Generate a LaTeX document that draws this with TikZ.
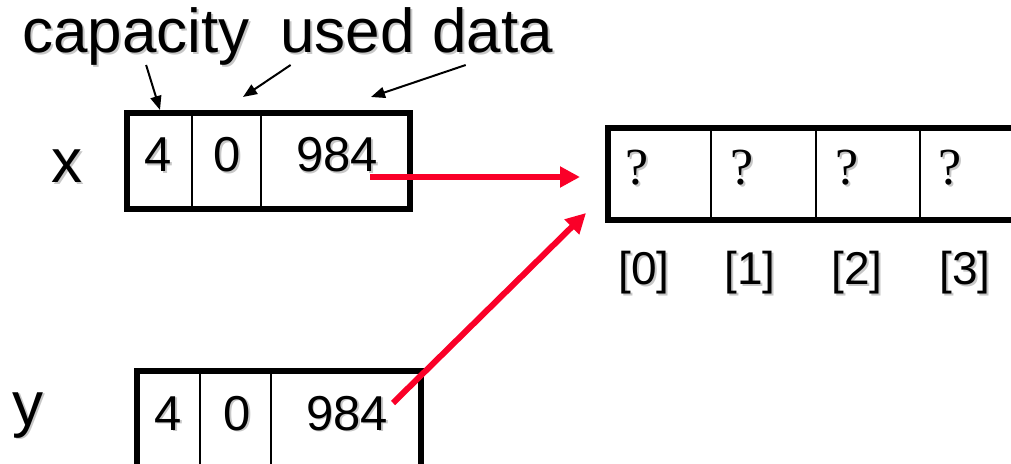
\documentclass[tikz,border=0pt]{standalone}
\usepackage{fontspec}
\setmainfont{Liberation Sans}
\newfontfamily\qfont{Liberation Serif}
\usetikzlibrary{arrows.meta}
\definecolor{ptrred}{RGB}{250,0,40}
% text with a soft grey drop shadow
\newcommand\shd[1]{\makebox[0pt][l]{\hspace{0.9pt}\raisebox{-0.9pt}{\textcolor{black!22}{#1}}}#1}

\begin{document}
\begin{tikzpicture}[x=0.5pt,y=-0.5pt,
  lbl/.style={inner sep=0pt, anchor=base, font=\fontsize{31}{31}\selectfont},
  val/.style={inner sep=0pt, anchor=base, font=\fontsize{24.5}{25}\selectfont},
  idx/.style={inner sep=0pt, anchor=base, font=\fontsize{23}{23}\selectfont},
  qm/.style={inner sep=0pt, anchor=base, font=\qfont\fontsize{26}{26}\selectfont},
  frame/.style={line width=3pt},
  divider/.style={line width=1.2pt},
  note/.style={line width=1pt, -{Triangle[length=7pt,width=5.5pt]}},
  ptr/.style={line width=3pt, ptrred, -{Triangle[length=10pt,width=10pt]}}]
\useasboundingbox (0,0) rectangle (1011,464);
\clip (0,0) rectangle (1011,464);

% field names
\node[lbl, anchor=base west] (wcap)  at (22,53)  {\shd{capacity}};
\node[lbl, anchor=base west] (wused) at (280,53) {\shd{used}};
\node[lbl, anchor=base west] (wdata) at (432,53) {\shd{data}};

% variable names
\node[lbl] (xname) at (67,183) {\shd{x}};
\node[lbl] (yname) at (28,425) {\shd{y}};

% object x
\draw[divider] (192,113) -- (192,209) (261,113) -- (261,209);
\draw[frame] (127,113) rectangle (410,209);
\node[val] (x4) at (158,172) {\shd{4}};
\node[val] (x0) at (227,172) {\shd{0}};
\node[val] (xd) at (337,172) {\shd{984}};

% object y
\draw[divider] (200,371) -- (200,480) (271,371) -- (271,480);
\draw[frame] (137,480) -- (137,371) -- (421,371) -- (421,480);
\node[val] (y4) at (168,430) {\shd{4}};
\node[val] (y0) at (237,430) {\shd{0}};
\node[val] (yd) at (347,430) {\shd{984}};

% the shared array
\draw[divider] (711,128.5) -- (711,220) (816,128.5) -- (816,220) (920,128.5) -- (920,220);
\draw[frame] (1030,128.5) -- (608,128.5) -- (608,220) -- (1030,220);
\node[qm] (q0) at (637,185) {\shd{?}};
\node[qm] (q1) at (742,185) {\shd{?}};
\node[qm] (q2) at (847,185) {\shd{?}};
\node[qm] (q3) at (950,185) {\shd{?}};
\node[idx] (i0) at (644,285) {\shd{[0]}};
\node[idx] (i1) at (750,285) {\shd{[1]}};
\node[idx] (i2) at (857,285) {\shd{[2]}};
\node[idx] (i3) at (965,285) {\shd{[3]}};

% arrow end points
\coordinate (capTip)  at (160,110);
\coordinate (usedTip) at (243,97);
\coordinate (dataTip) at (371,97);
\coordinate (arrIn1)  at (580,177);
\coordinate (arrIn2)  at (586,213);

\draw[note] ([xshift=5pt,yshift=-6pt]wcap.base) -- (capTip);
\draw[note] ([xshift=-28.5pt,yshift=-6pt]wused.base) -- (usedTip);
\draw[note] ([xshift=-13.5pt,yshift=-6pt]wdata.base) -- (dataTip);

\draw[ptr] ([xshift=16.5pt,yshift=-2.5pt]xd.base) -- (arrIn1);
\draw[ptr] ([xshift=23pt,yshift=13.5pt]yd.base) -- (arrIn2);
\end{tikzpicture}
\end{document}
